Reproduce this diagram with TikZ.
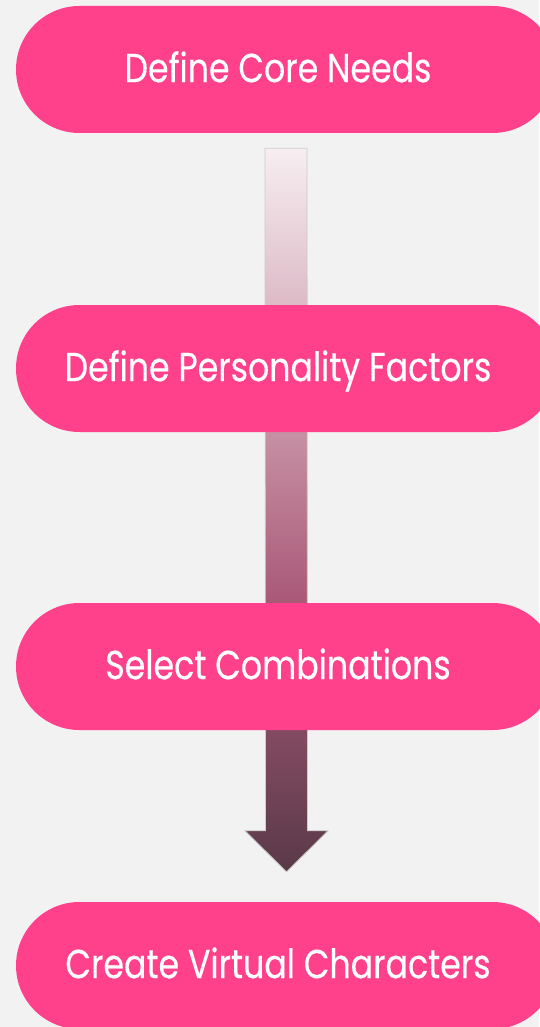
\documentclass[tikz,border=0pt]{standalone}
\usepackage{fontspec}
\setmainfont{Poppins}[FakeStretch=0.82,FakeBold=0.35]
\usetikzlibrary{calc}
\definecolor{bgc}{HTML}{F2F2F2}
\definecolor{pillc}{HTML}{FF408A}
\definecolor{flowtop}{HTML}{F7EEF1}
\definecolor{flowmid}{HTML}{AA5A78}
\definecolor{flowbot}{HTML}{5A3A48}
% vertical gradient of the flow arrow (visible part is 25bp..75bp)
\pgfdeclareverticalshading{flowshade}{100bp}{color(0bp)=(flowbot); color(25bp)=(flowbot); color(44bp)=(flowmid); color(75bp)=(flowtop); color(100bp)=(flowtop)}
\pgfdeclarelayer{back}
\pgfsetlayers{back,main}
\tikzset{
  pill/.style={rectangle, fill=pillc, rounded corners=63.5pt,
    minimum width=540pt, minimum height=127pt, inner sep=0pt,
    text=white, font=\fontsize{40.5}{40.5}\selectfont,
    text height=25.3pt, text depth=0pt,
    % labels sit a little left of the pill centre
    execute at begin node=\kern-16pt},
  flowarrow/.style={shading=flowshade, draw=black!20, line width=0.8pt}
}
\begin{document}
\begin{tikzpicture}[x=1pt,y=-1pt]
\useasboundingbox (0,0) rectangle (539,1027);
\node[pill] (n1) at (286,69.5) {Define Core Needs};
\node[pill] (n2) at (286,368.5) {Define Personality Factors};
\node[pill] (n3) at (286,666.5) {Select Combinations};
\node[pill] (n4) at (286,965.5) {Create Virtual Characters};
\coordinate (a0) at ($(n1.south)+(0,15)$);
\coordinate (tip) at ($(n4.north)+(0.5,-30)$);
\begin{pgfonlayer}{back}
  \fill[bgc] (0,0) rectangle (539,1027);
  \shade[flowarrow] ($(a0)+(-21,0)$) -- ($(a0)+(21,0)$)
    -- ($(tip)+(21,-41)$) -- ($(tip)+(41.5,-41)$) -- (tip)
    -- ($(tip)+(-41.5,-41)$) -- ($(tip)+(-21,-41)$) -- cycle;
\end{pgfonlayer}
\end{tikzpicture}
\end{document}
